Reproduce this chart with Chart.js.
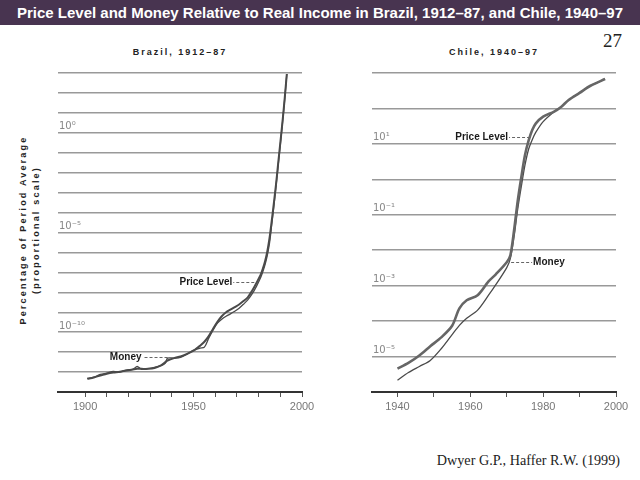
<!DOCTYPE html>
<html>
<head>
<meta charset="utf-8">
<script src="https://cdn.jsdelivr.net/npm/chart.js@4.4.1/dist/chart.umd.min.js"></script>
<style>
  body { margin: 0; width: 640px; height: 480px; position: relative; overflow: hidden; background: #fff;
         font-family: "Liberation Sans", Arial, sans-serif; }
  #head { position: absolute; left: 0; top: 0; width: 640px; height: 25px; background: #483450;
          color: #fff; font-weight: bold; font-size: 15px; line-height: 25px; text-align: center; white-space: nowrap; }
  .ptitle { position: absolute; top: 47px; width: 244px; text-align: center; font-weight: bold;
            font-size: 9px; letter-spacing: 2px; color: #222; }
  #ytitle { position: absolute; left: -94px; top: 216px; width: 250px; height: 28px; transform: rotate(-90deg);
            text-align: center; font-weight: bold; font-size: 9px; letter-spacing: 2.2px; line-height: 13px; color: #222; }
  #page { position: absolute; right: 18px; top: 30px; font-family: "Liberation Serif", serif; font-size: 19px; color: #222; }
  #cite { position: absolute; right: 20px; top: 452px; font-family: "Liberation Serif", serif; font-size: 14.2px; color: #222; }
  canvas { position: absolute; top: 63px; }
</style>
</head>
<body>
<div id="head">Price Level and Money Relative to Real Income in Brazil, 1912–87, and Chile, 1940–97</div>
<div id="page">27</div>
<div class="ptitle" style="left:58px">Brazil, 1912–87</div>
<div class="ptitle" style="left:372px">Chile, 1940–97</div>
<div id="ytitle">Percentage of Period Average<br>(proportional scale)</div>
<canvas id="brazil" width="274" height="360" style="left:48px"></canvas>
<canvas id="chile" width="274" height="360" style="left:362px"></canvas>
<div id="cite">Dwyer G.P., Haffer R.W. (1999)</div>
<script>
// values are read as powers of ten (proportional scale)
const brazilYears = [1901, 1904, 1907, 1910, 1913, 1916, 1919, 1922, 1924, 1926, 1929, 1932, 1935, 1937, 1938,
  1941, 1944, 1947, 1950, 1953, 1955, 1957, 1959, 1961, 1963, 1965, 1967, 1969, 1971, 1973, 1975, 1977, 1979,
  1981, 1982, 1983, 1984, 1985, 1986, 1987, 1988, 1989, 1990, 1991, 1992, 1993];
const brazilPriceExp = [-12.34, -12.27, -12.18, -12.08, -12.02, -11.99, -11.92, -11.87, -11.84, -11.84, -11.84,
  -11.80, -11.67, -11.50, -11.42, -11.30, -11.22, -11.09, -10.93, -10.68, -10.48, -10.20, -9.83, -9.48, -9.20,
  -9.00, -8.87, -8.74, -8.61, -8.44, -8.25, -7.92, -7.53, -7.10, -6.80, -6.43, -5.95, -5.30, -4.45, -3.55,
  -2.61, -1.55, -0.50, 0.55, 1.70, 2.95];
const brazilMoneyExp = [-12.32, -12.26, -12.12, -12.05, -11.97, -12.00, -11.90, -11.86, -11.72, -11.86, -11.83,
  -11.76, -11.68, -11.55, -11.30, -11.30, -11.26, -11.10, -10.90, -10.80, -10.75, -10.30, -9.90, -9.55, -9.35,
  -9.20, -9.08, -8.95, -8.80, -8.60, -8.38, -8.08, -7.70, -7.25, -6.95, -6.60, -6.15, -5.55, -4.65, -3.70,
  -2.70, -1.65, -0.60, 0.50, 1.65, 2.95];

const chileYears = [1940, 1943, 1946, 1949, 1952, 1955, 1957, 1959, 1962, 1965, 1967, 1970, 1971, 1972, 1973,
  1974, 1975, 1976, 1977, 1978, 1980, 1983, 1985, 1987, 1990, 1993, 1997];
const chilePriceExp = [-5.34, -5.18, -4.97, -4.71, -4.46, -4.13, -3.64, -3.41, -3.27, -2.88, -2.68, -2.34, -2.14,
  -1.45, -0.62, 0.06, 0.68, 1.09, 1.39, 1.58, 1.77, 1.91, 2.05, 2.24, 2.44, 2.64, 2.83];
const chileMoneyExp = [-5.67, -5.45, -5.28, -5.11, -4.78, -4.38, -4.12, -3.92, -3.69, -3.27, -2.97, -2.49, -2.23,
  -1.62, -0.85, -0.20, 0.40, 0.85, 1.12, 1.33, 1.63, 1.91, 2.05, 2.24, 2.44, 2.64, 2.83];

const brazilXTicks = [1900, 1910, 1920, 1930, 1940, 1950, 1960, 1970, 1980, 1990, 2000];
const brazilXLabels = [1900, 1950, 2000];
const chileXTicks = [1940, 1950, 1960, 1970, 1980, 1990, 2000];
const chileXLabels = [1940, 1960, 1980, 2000];

const brazilGridExp = [-12, -11, -10, -9, -8, -7, -6, -5, -4, -3, -2, -1, 0, 1, 2, 3];
const brazilLabelExp = [0, -5, -10];
const chileGridExp = [-5, -4, -3, -2, -1, 0, 1, 2, 3];
const chileLabelExp = [1, -1, -3, -5];

Chart.defaults.font.family = '"Liberation Sans", Arial, sans-serif';

const SUP = { '-': '⁻', '0': '⁰', '1': '¹', '2': '²', '3': '³', '4': '⁴', '5': '⁵', '6': '⁶', '7': '⁷', '8': '⁸', '9': '⁹' };
const sup = n => String(n).split('').map(c => SUP[c]).join('');

// "Price Level - - -" style labels pinned to data coordinates
const seriesLabels = {
  id: 'seriesLabels',
  afterDatasetsDraw(chart, args, opts) {
    const { ctx, scales: { x, y } } = chart;
    ctx.save();
    ctx.font = 'bold 10px "Liberation Sans", Arial, sans-serif';
    ctx.textBaseline = 'middle';
    opts.items.forEach(it => {
      const px = x.getPixelForValue(it.year);
      const py = Math.round(y.getPixelForValue(10 ** it.exp)) + 0.5;
      const end = it.side === 'left' ? px - it.len : px + it.len;
      ctx.strokeStyle = '#666';
      ctx.lineWidth = 1;
      ctx.setLineDash([3, 2]);
      ctx.beginPath();
      ctx.moveTo(px, py);
      ctx.lineTo(end, py);
      ctx.stroke();
      ctx.fillStyle = '#1a1a1a';
      ctx.textAlign = it.side === 'left' ? 'right' : 'left';
      ctx.fillText(it.text, it.side === 'left' ? end - 1 : end + 1, py);
    });
    ctx.restore();
  }
};

function makeChart(id, cfg) {
  return new Chart(document.getElementById(id), {
    type: 'line',
    data: {
      datasets: [{
        label: 'Price Level',
        data: cfg.years.map((yr, i) => ({ x: yr, y: 10 ** cfg.price[i] })),
        borderColor: cfg.priceColor,
        borderWidth: cfg.priceWidth,
        pointRadius: 0,
        tension: 0.3,
      }, {
        label: 'Money',
        data: cfg.years.map((yr, i) => ({ x: yr, y: 10 ** cfg.money[i] })),
        borderColor: '#4a4a4a',
        borderWidth: 1.3,
        pointRadius: 0,
        tension: 0.3,
      }],
    },
    options: {
      responsive: false,
      animation: false,
      layout: { padding: { left: 10, right: 20, top: 10, bottom: 0 } },
      plugins: {
        legend: { display: false },
        tooltip: { enabled: false },
        seriesLabels: { items: cfg.notes },
      },
      scales: {
        x: {
          type: 'linear',
          min: cfg.xMin,
          max: 2000,
          afterBuildTicks: s => { s.ticks = cfg.xTicks.map(v => ({ value: v })); },
          afterFit: s => { s.height = 31; },
          grid: { drawOnChartArea: false, drawTicks: true, tickLength: 5, color: '#555', lineWidth: 1 },
          border: { display: true, color: '#333', width: 2 },
          ticks: {
            padding: 3, color: '#777', font: { size: 11 }, maxRotation: 0, autoSkip: false,
            callback: v => cfg.xLabels.includes(v) ? String(v) : '',
          },
        },
        y: {
          type: 'logarithmic',
          min: 10 ** cfg.yMin,
          max: 10 ** cfg.yMax,
          afterBuildTicks: s => { s.ticks = cfg.grid.map(e => ({ value: 10 ** e })); },
          afterFit: s => { s.width = 0; },
          grid: { drawTicks: false, color: '#999', lineWidth: 1.5 },
          border: { display: false },
          ticks: {
            mirror: true, padding: 1, labelOffset: -6, color: '#888',
            font: { size: 10, family: '"DejaVu Sans", sans-serif' }, autoSkip: false,
            callback: v => {
              const e = Math.round(Math.log10(v));
              return cfg.yLabels.includes(e) ? '10' + sup(e) : '';
            },
          },
        },
      },
    },
    plugins: [seriesLabels],
  });
}

makeChart('brazil', {
  years: brazilYears, price: brazilPriceExp, money: brazilMoneyExp,
  priceColor: '#4a4a4a', priceWidth: 2,
  xMin: 1887.5, xTicks: brazilXTicks, xLabels: brazilXLabels,
  yMin: -13, yMax: 3, grid: brazilGridExp, yLabels: brazilLabelExp,
  notes: [
    { text: 'Price Level', year: 1978, exp: -7.5, side: 'left', len: 21 },
    { text: 'Money', year: 1938, exp: -11.25, side: 'left', len: 25 },
  ],
});

makeChart('chile', {
  years: chileYears, price: chilePriceExp, money: chileMoneyExp,
  priceColor: '#666', priceWidth: 2.6,
  xMin: 1933, xTicks: chileXTicks, xLabels: chileXLabels,
  yMin: -6, yMax: 3, grid: chileGridExp, yLabels: chileLabelExp,
  notes: [
    { text: 'Price Level', year: 1976.4, exp: 1.19, side: 'left', len: 21 },
    { text: 'Money', year: 1971.2, exp: -2.34, side: 'right', len: 21 },
  ],
});
</script>
</body>
</html>
